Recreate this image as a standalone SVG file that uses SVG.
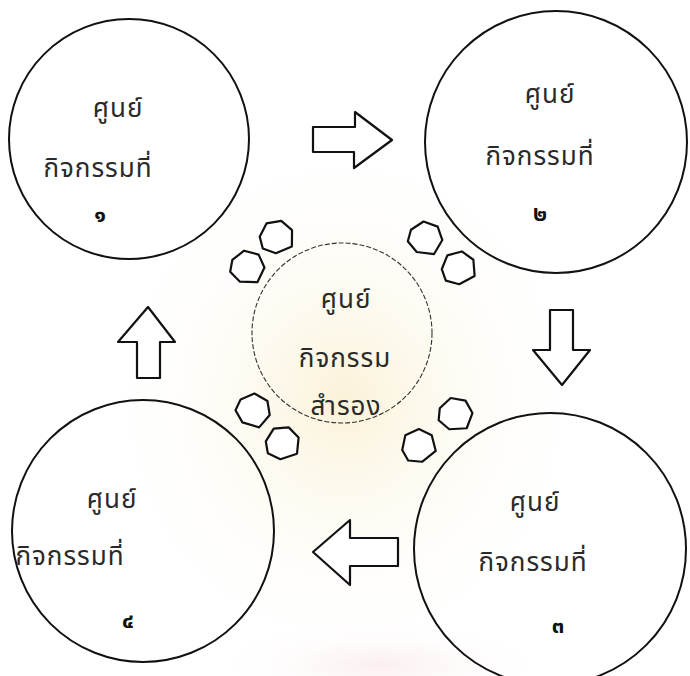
<svg xmlns="http://www.w3.org/2000/svg" xmlns:xlink="http://www.w3.org/1999/xlink" width="690" height="676" viewBox="0 0 690 676">
<defs>
<style>
.ring{fill:none;stroke:#111;stroke-width:2}
.ringc{fill:none;stroke:#333;stroke-width:1.1;stroke-dasharray:5 2}
.t{font-family:"Noto Sans Thai","Loma","Garuda","Norasi","Noto Sans",sans-serif;font-size:26px;fill:#2a2a2a;text-anchor:middle;letter-spacing:1px}
.d{font-family:"Noto Sans Thai","Loma","Garuda","Noto Sans",sans-serif;font-size:22px;fill:#111;text-anchor:middle;font-weight:bold}
.arr{fill:#fff;stroke:#111;stroke-width:2.2;stroke-linejoin:round}
.hx{fill:#fff;stroke:#111;stroke-width:2.2;stroke-linejoin:round}
</style>
<radialGradient id="wm" cx="0.5" cy="0.5" r="0.5">
<stop offset="0" stop-color="#faf2d8"/>
<stop offset="1" stop-color="#ffffff" stop-opacity="0"/>
</radialGradient>
<radialGradient id="wm2" cx="0.5" cy="0.5" r="0.5">
<stop offset="0" stop-color="#fbeeee"/>
<stop offset="1" stop-color="#ffffff" stop-opacity="0"/>
</radialGradient>
<path id="hex" d="M-16,-3 L-7,-15 L8,-15 L17,-4 L14,12 L-3,16 L-15,9 Z"/>
</defs>
<rect width="690" height="676" fill="#fff"/>
<ellipse cx="345" cy="400" rx="250" ry="270" fill="url(#wm)"/>
<ellipse cx="380" cy="665" rx="170" ry="45" fill="url(#wm2)"/>
<g id="connectors">
<polygon class="arr" points="313,127 355,127 355,112 392,140 354,168 354,152 313,152"/>
<polygon class="arr" points="550,310 573,310 573,350 590,350 562,385 533,350 550,350"/>
<polygon class="arr" points="398,538 350,538 350,520 313,552 350,585 350,566 398,566"/>
<polygon class="arr" points="137,378 160,378 160,342 175,342 148,307 118,342 137,342"/>
<use class="hx" href="#hex" transform="translate(276,237) rotate(-10)"/>
<use class="hx" href="#hex" transform="translate(247,267) rotate(15)"/>
<use class="hx" href="#hex" transform="translate(425,238) rotate(20)"/>
<use class="hx" href="#hex" transform="translate(458,268) rotate(-15)"/>
<use class="hx" href="#hex" transform="translate(253,410) rotate(30)"/>
<use class="hx" href="#hex" transform="translate(282,443) rotate(-5)"/>
<use class="hx" href="#hex" transform="translate(455,414) rotate(10)"/>
<use class="hx" href="#hex" transform="translate(418,446) rotate(-25)"/>
</g>
<g id="node1">
<circle class="ring" cx="129" cy="139" r="120"/>
<text class="t" x="118" y="117">ศูนย์</text>
<text class="t" x="98" y="177">กิจกรรมที่</text>
<text class="d" x="100" y="222">๑</text>
</g>
<g id="node2">
<circle class="ring" cx="556" cy="142" r="131"/>
<text class="t" x="550" y="103">ศูนย์</text>
<text class="t" x="540" y="165">กิจกรรมที่</text>
<text class="d" x="540" y="221">๒</text>
</g>
<g id="node3">
<circle class="ring" cx="550" cy="549" r="136"/>
<text class="t" x="535" y="511">ศูนย์</text>
<text class="t" x="533" y="571">กิจกรรมที่</text>
<text class="d" x="558" y="633">๓</text>
</g>
<g id="node4">
<circle class="ring" cx="143" cy="531" r="131"/>
<text class="t" x="112" y="508">ศูนย์</text>
<text class="t" x="70" y="565">กิจกรรมที่</text>
<text class="d" x="128" y="628">๔</text>
</g>
<g id="center">
<circle class="ringc" cx="342" cy="333" r="90"/>
<text class="t" x="346" y="308">ศูนย์</text>
<text class="t" x="345" y="367">กิจกรรม</text>
<text class="t" x="346" y="415">สำรอง</text>
</g>
</svg>
